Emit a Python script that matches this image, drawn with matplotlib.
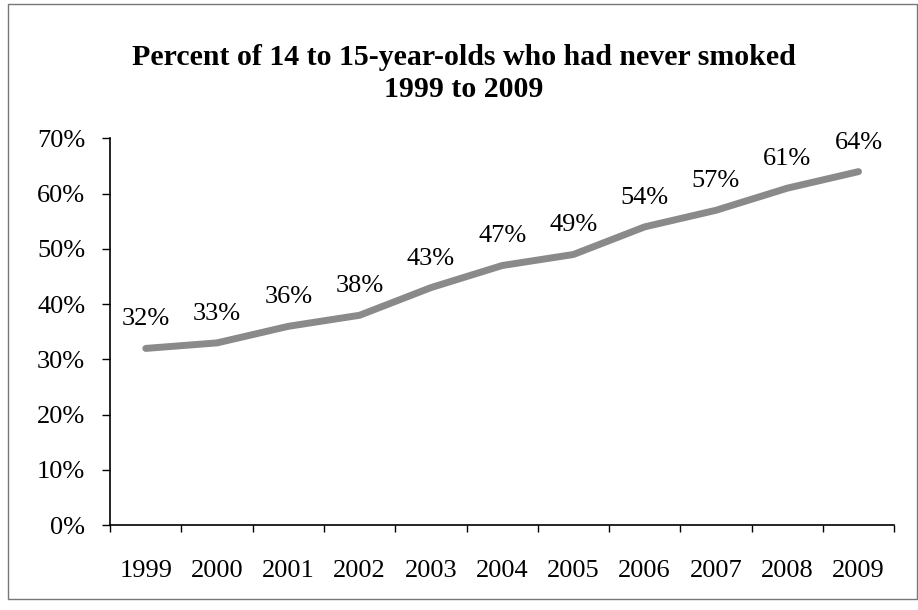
import matplotlib.pyplot as plt
import numpy as np
from matplotlib.patches import Rectangle

years = ['1999', '2000', '2001', '2002', '2003', '2004', '2005', '2006', '2007', '2008', '2009']
never_smoked = [32, 33, 36, 38, 43, 47, 49, 54, 57, 61, 64]
y_ticks = [0, 10, 20, 30, 40, 50, 60, 70]

plt.rcParams['font.family'] = ['Liberation Serif', 'DejaVu Serif']

fig = plt.figure(figsize=(9.18, 6.10), dpi=100)
ax = fig.add_axes([0.120, 0.139, 0.854, 0.634])

x = np.arange(len(years))
ax.plot(x, never_smoked, color='#8a8a8a', linewidth=5, solid_capstyle='round')
for xi, v in zip(x, never_smoked):
    ax.annotate('%d%%' % v, (xi, v), xytext=(0, 13), textcoords='offset points',
                ha='center', va='bottom', fontsize=19)

ax.set_xlim(-0.5, len(years) - 0.5)
ax.set_ylim(0, 70)
ax.set_yticks(y_ticks)
ax.set_yticklabels(['%d%%' % t for t in y_ticks], fontsize=19)
ax.set_xticks(x)
ax.set_xticklabels(years, fontsize=19)
ax.set_xticks(np.arange(-0.5, len(years)), minor=True)
ax.tick_params(axis='x', which='major', length=0, pad=25)
ax.tick_params(axis='x', which='minor', length=5, direction='out', width=1)
ax.tick_params(axis='y', length=6, direction='out', width=1, pad=12)
for s in ['top', 'right']:
    ax.spines[s].set_visible(False)
for s in ['left', 'bottom']:
    ax.spines[s].set_linewidth(1.2)

fig.text(0.505, 0.879, 'Percent of 14 to 15-year-olds who had never smoked\n1999 to 2009',
         ha='center', va='center', fontsize=21.5, fontweight='bold', linespacing=1.25)

fig.patches.append(Rectangle((0.009, 0.018), 0.99, 0.975, transform=fig.transFigure,
                             fill=False, edgecolor='#777777', linewidth=1))

fig.savefig('out.png', dpi=100)
